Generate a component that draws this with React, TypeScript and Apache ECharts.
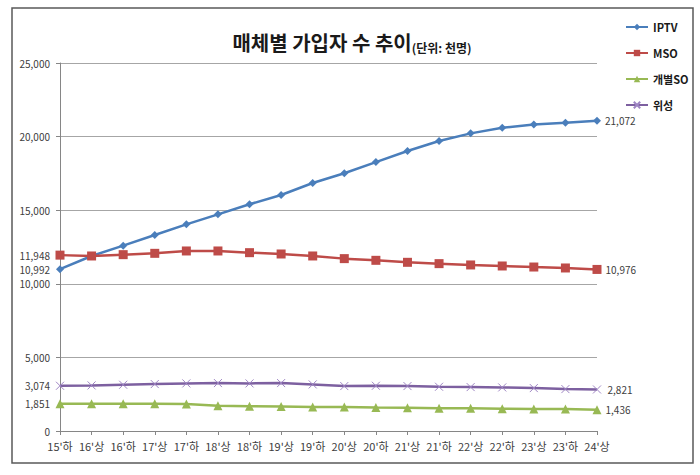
import React, { useEffect, useRef } from 'react';
import * as echarts from 'echarts';

const categories = ["15'하", "16'상", "16'하", "17'상", "17'하", "18'상", "18'하", "19'상", "19'하", "20'상", "20'하", "21'상", "21'하", "22'상", "22'하", "23'상", "23'하", "24'상"];
const iptv = [10992, 11889, 12590, 13315, 14040, 14720, 15400, 16030, 16850, 17510, 18270, 19020, 19700, 20220, 20600, 20830, 20940, 21072];
const mso = [11948, 11890, 11980, 12070, 12230, 12230, 12115, 12025, 11890, 11710, 11595, 11460, 11370, 11280, 11210, 11140, 11075, 10976];
const individualSO = [1851, 1856, 1851, 1845, 1840, 1710, 1685, 1657, 1630, 1630, 1600, 1575, 1545, 1545, 1520, 1490, 1490, 1436];
const satellite = [3074, 3097, 3142, 3188, 3233, 3256, 3233, 3256, 3165, 3052, 3074, 3052, 3006, 2983, 2960, 2915, 2847, 2821];
const seriesNames = ['IPTV', 'MSO', '개별SO', '위성'];
const yLabelValues = [0, 1851, 3074, 5000, 10000, 10992, 11948, 15000, 20000, 25000];

const fmt = (v: number) => Number(v).toLocaleString('en-US');
const FONT = '"Noto Sans CJK KR", "Noto Sans", sans-serif';

export default function App() {
  const ref = useRef<HTMLDivElement>(null);
  useEffect(() => {
    if (!ref.current) return;
    const chart = echarts.init(ref.current, undefined, { renderer: 'svg' });
    const last = categories.length - 1;
    const endLabel = {
      show: true,
      position: 'right',
      distance: 4,
      fontSize: 10,
      color: '#404040',
      fontFamily: FONT,
      formatter: (p: any) => (p.dataIndex === last ? fmt(p.value) : ''),
    };
    const mk = (name: string, data: number[], color: string, symbol: string, size: number) => ({
      name,
      type: 'line',
      data,
      symbol,
      symbolSize: size,
      showAllSymbol: true,
      lineStyle: { color, width: 2.5 },
      itemStyle: { color },
      label: endLabel,
    });
    chart.setOption({
      animation: false,
      textStyle: { fontFamily: FONT },
      graphic: [
        {
          type: 'rect',
          shape: { x: 12, y: 8, width: 681, height: 455 },
          style: { fill: 'none', stroke: '#595959', lineWidth: 1.5 },
          silent: true,
        },
        {
          type: 'text',
          x: 352,
          y: 42,
          style: {
            text: '{a|매체별 가입자 수 추이}{b|(단위: 천명)}',
            align: 'center',
            verticalAlign: 'middle',
            rich: {
              a: { fontSize: 20, fontWeight: 'bold', fontFamily: FONT, fill: '#1a1a1a', lineHeight: 26 },
              b: { fontSize: 12, fontWeight: 'bold', fontFamily: FONT, fill: '#1a1a1a', lineHeight: 26, verticalAlign: 'bottom', padding: [0, 0, 2, 0] },
            },
          },
        },
      ],
      legend: {
        orient: 'vertical',
        left: 620,
        top: 15,
        itemWidth: 22,
        itemHeight: 8,
        itemGap: 12,
        data: seriesNames,
        textStyle: { fontSize: 11, fontWeight: 'bold', color: '#1a1a1a', fontFamily: FONT, lineHeight: 14 },
      },
      grid: { left: 60, right: 103, top: 63, bottom: 44, containLabel: false },
      xAxis: {
        type: 'category',
        boundaryGap: false,
        data: categories,
        axisLine: { lineStyle: { color: '#868686', width: 1 } },
        axisTick: { show: true, length: 4, interval: 0, lineStyle: { color: '#868686' } },
        axisLabel: { interval: 0, fontSize: 11, color: '#404040', margin: 9, fontFamily: FONT },
        splitLine: { show: false },
      },
      yAxis: {
        type: 'value',
        min: 0,
        max: 25000,
        interval: 5000,
        axisLine: { show: true, lineStyle: { color: '#868686', width: 1 } },
        axisTick: { show: true, length: 4, lineStyle: { color: '#868686' } },
        axisLabel: {
          customValues: yLabelValues,
          formatter: (v: number) => fmt(v),
          fontSize: 10,
          color: '#404040',
          margin: 10,
          fontFamily: FONT,
        },
        splitLine: { show: true, lineStyle: { color: '#a6a6a6', width: 1 } },
      },
      series: [
        mk('IPTV', iptv, '#4a7ebb', 'diamond', 8),
        mk('MSO', mso, '#be4b48', 'rect', 9),
        mk('개별SO', individualSO, '#98b954', 'triangle', 9),
        {
          ...mk('위성', satellite, '#7d60a0', 'path://M0,0L10,10M10,0L0,10', 8),
          itemStyle: { color: 'none', borderColor: '#9f86c4', borderWidth: 1 },
        },
      ],
    });
    return () => chart.dispose();
  }, []);
  return <div ref={ref} style={{ position: 'absolute', left: 0, top: 0, width: 700, height: 475 }} />;
}
